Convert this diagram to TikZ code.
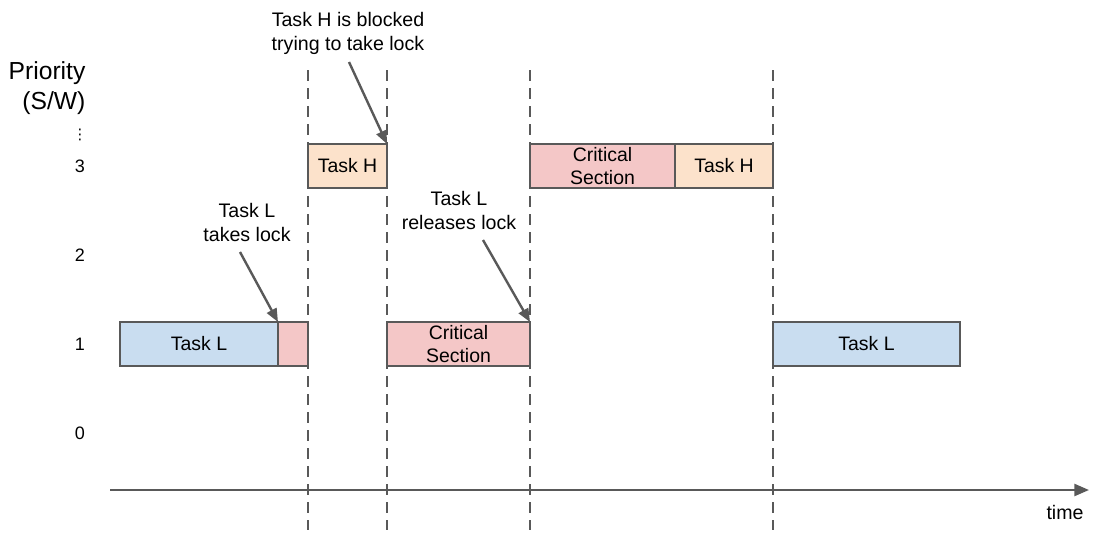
\documentclass[tikz,border=0pt]{standalone}
\usepackage{fontspec}
\setmainfont{Liberation Sans}
\newfontfamily\symfont{DejaVu Sans}
\usepackage{tikz}
\usetikzlibrary{positioning,arrows.meta,calc}

\definecolor{lineGray}{HTML}{595959}
\definecolor{taskLBlue}{HTML}{C9DDF0}
\definecolor{critPink}{HTML}{F4C7C7}
\definecolor{taskHPeach}{HTML}{FCE2CB}

\tikzset{
  box/.style={draw=lineGray, line width=1.5pt, minimum height=33pt, inner sep=0pt,
    outer sep=0pt, align=center, font=\fontsize{14.6}{17.4}\selectfont},
  lowbox/.style={box, fill=taskLBlue},
  critbox/.style={box, fill=critPink},
  highbox/.style={box, fill=taskHPeach},
  guide/.style={lineGray, line width=1.5pt, dash pattern=on 8.5pt off 5pt},
  note/.style={align=center, inner sep=1pt, font=\fontsize{14.7}{18}\selectfont},
  pointer/.style={lineGray, line width=1.8pt, -{Triangle[length=10pt,width=8pt]}},
  level/.style={font=\fontsize{13.5}{16}\selectfont}
}

\begin{document}
\begin{tikzpicture}[x=0.75pt,y=-0.75pt]
                \useasboundingbox (0,0) rectangle (1102,536);
                % vertical guides
                \foreach \x in {308,387,530,773}
                  \draw[guide] (\x,70) -- (\x,530);
                % priority axis
                \node[note, align=right, anchor=east, font=\fontsize{18.5}{22}\selectfont] (prio) at (87,88) {Priority\\(S/W)};
                \node[level, inner sep=0pt] (dots) at (80,135) {\symfont\fontsize{11}{11}\selectfont ⋮};
                \node[level] (p3) at (80,166) {3};
                \node[level] (p2) at (80,255) {2};
                \node[level] (p1) at (80,344) {1};
                \node[level] (p0) at (80,433) {0};
                % time axis
                \coordinate (t0) at (110,490);
                \coordinate (t1) at (1089,490);
                \draw[lineGray, line width=1.8pt, -{Triangle[length=11pt,width=9pt]}] (t0) -- (t1);
                \node[note] (time) at (1065,512) {time};
                % tasks
                \node[lowbox, minimum width=118.5pt] (lowL) at (199,344) {Task L};
                \node[critbox, minimum width=22.5pt] (lockL) at (293,344) {};
                \node[highbox, minimum width=59.25pt] (highH) at (347.5,166) {Task H};
                \node[critbox, minimum width=107.25pt] (crit1) at (458.5,344) {Critical\\Section};
                \node[critbox, minimum width=108.75pt] (crit2) at (602.5,166) {Critical\\Section};
                \node[highbox, minimum width=73.5pt] (highH2) at (724,166) {Task H};
                \node[lowbox, minimum width=140.25pt] (lowL2) at (866.5,344) {Task L};
                % notes
                \node[note] (takes) at (247,222) {Task L\\takes lock};
                \node[note] (blocked) at (348,33) {Task H is blocked\\trying to take lock};
                \node[note] (releases) at (459,210) {Task L\\releases lock};
                \coordinate (takesTail) at (240,252);
                \coordinate (blockedTail) at (349,62);
                \coordinate (releasesTail) at (483,240);
                \draw[pointer] (takesTail) -- (lowL.north east);
                \draw[pointer] (blockedTail) -- (highH.north east);
                \draw[pointer] (releasesTail) -- (crit1.north east);
            \end{tikzpicture}
\end{document}
